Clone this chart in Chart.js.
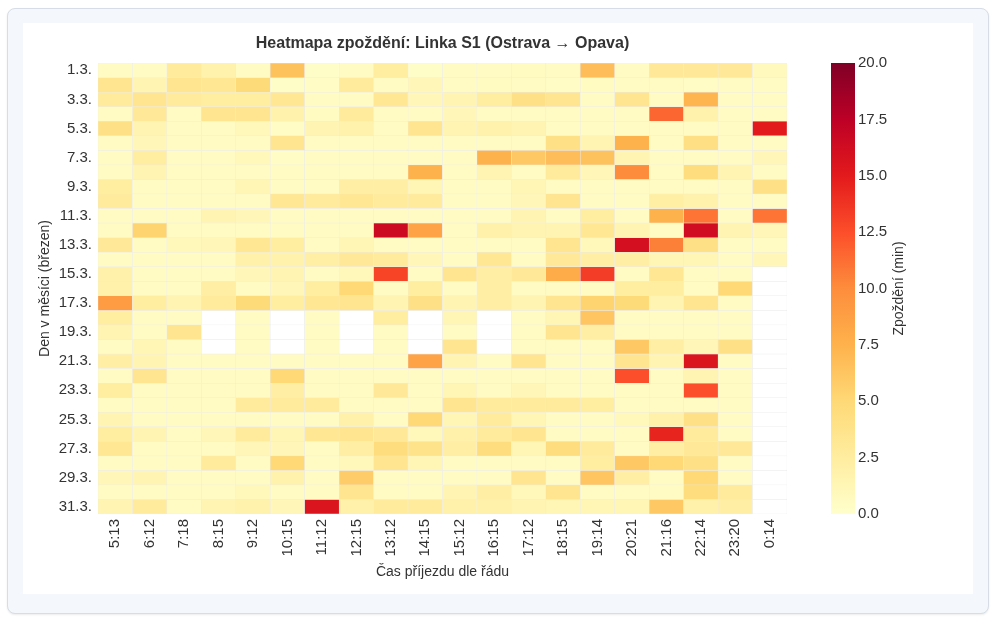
<!DOCTYPE html>
<html>
<head>
<meta charset="utf-8">
<script src="https://cdn.jsdelivr.net/npm/chart.js@4.4.1/dist/chart.umd.min.js"></script>
<style>
  html, body { margin: 0; padding: 0; background: #ffffff; width: 1000px; height: 621px; overflow: hidden; }
  #card { position: absolute; left: 7px; top: 8px; width: 982px; height: 606px; box-sizing: border-box;
          background: #f4f7fb; border: 1px solid #d6dde6; border-radius: 8px; box-shadow: 0 1px 2px rgba(0,0,0,0.08); }
  #panel { position: absolute; left: 23px; top: 23px; width: 950px; height: 571px; background: #ffffff; }
  #c { position: absolute; left: 0; top: 0; }
</style>
</head>
<body>
<div id="card"></div>
<div id="panel"></div>
<canvas id="c" width="1000" height="621"></canvas>
<script>
// ---- data ----
const times = ['5:13','6:12','7:18','8:15','9:12','10:15','11:12','12:15','13:12','14:15',
               '15:12','16:15','17:12','18:15','19:14','20:21','21:16','22:14','23:20','0:14'];

const dayLabels = ['1.3.','2.3.','3.3.','4.3.','5.3.','6.3.','7.3.','8.3.','9.3.','10.3.',
                   '11.3.','12.3.','13.3.','14.3.','15.3.','16.3.','17.3.','18.3.','19.3.','20.3.',
                   '21.3.','22.3.','23.3.','24.3.','25.3.','26.3.','27.3.','28.3.','29.3.','30.3.','31.3.'];

const N = null; // missing value
// delay in minutes, one row per day, one column per scheduled arrival
const delayMatrix = [
  [0.5, 0.5, 2.8, 1.8, 0.5, 6.5, 0.3, 0.5, 2.5, 0.3, 0.5, 0.5, 0.6, 0.5, 6.8, 0.5, 3.0, 3.0, 3.0, 0.8],
  [3.5, 1.5, 3.5, 3.3, 4.8, 0.3, 0.4, 2.8, 0.5, 1.2, 0.5, 0.6, 0.5, 0.4, 0.6, 0.5, 0.5, 0.4, 0.5, 0.5],
  [2.8, 3.5, 2.8, 2.5, 2.5, 3.3, 0.5, 0.5, 3.3, 1.2, 1.5, 2.5, 4.0, 3.5, 0.5, 3.5, 0.5, 7.3, 0.5, 0.5],
  [0.5, 3.0, 0.5, 3.5, 3.5, 1.8, 0.6, 2.8, 0.5, 0.5, 1.2, 0.5, 0.5, 0.5, 0.5, 0.5, 11.5, 1.8, 0.5, 0.5],
  [4.0, 1.5, 0.5, 0.5, 1.0, 0.4, 1.5, 1.8, 0.5, 3.5, 1.5, 1.8, 1.5, 0.5, 0.5, 0.5, 0.5, 0.5, 0.5, 15.0],
  [0.5, 1.2, 0.5, 0.5, 0.5, 3.5, 0.5, 0.5, 0.5, 0.5, 0.5, 0.5, 0.5, 4.0, 1.5, 7.5, 0.5, 4.2, 0.5, 0.5],
  [0.5, 2.5, 0.5, 0.5, 1.0, 0.4, 0.5, 0.5, 0.5, 0.5, 0.5, 7.5, 6.0, 6.8, 6.5, 1.5, 0.5, 0.5, 0.5, 1.2],
  [0.5, 1.5, 0.5, 0.5, 0.5, 0.5, 0.5, 0.5, 0.5, 7.5, 0.5, 1.5, 0.5, 2.8, 1.2, 10.0, 0.5, 4.5, 1.5, 0.5],
  [2.5, 0.5, 0.5, 0.5, 1.3, 0.5, 0.5, 2.3, 2.3, 1.3, 0.5, 0.5, 1.3, 0.5, 0.5, 0.5, 0.5, 0.5, 0.5, 4.0],
  [2.8, 0.5, 0.5, 0.5, 0.5, 3.3, 2.8, 3.3, 2.8, 2.8, 0.5, 0.5, 1.2, 3.5, 0.5, 0.5, 2.2, 1.8, 0.5, 0.5],
  [0.5, 0.5, 0.5, 1.5, 1.2, 0.5, 0.5, 0.5, 0.5, 0.5, 0.5, 0.5, 1.5, 0.5, 2.5, 0.5, 7.5, 11.0, 0.5, 11.0],
  [0.5, 5.3, 0.5, 0.5, 0.5, 0.5, 0.5, 0.5, 16.5, 8.5, 0.5, 2.0, 1.5, 1.5, 3.3, 1.5, 0.5, 16.3, 1.5, 1.2],
  [3.0, 0.5, 1.0, 1.2, 3.3, 2.5, 0.5, 1.3, 0.5, 0.5, 0.5, 0.5, 0.5, 3.5, 1.0, 16.0, 10.5, 4.0, 0.5, 0.5],
  [0.5, 0.5, 0.5, 0.5, 2.0, 1.8, 2.2, 3.0, 2.8, 1.2, 0.5, 3.3, 0.5, 3.0, 2.3, 2.3, 1.3, 1.3, 0.5, 1.2],
  [2.0, 0.5, 0.5, 0.5, 1.2, 1.5, 0.5, 1.0, 13.0, 0.5, 3.5, 2.3, 3.0, 8.0, 13.3, 0.5, 3.3, 0.5, 0.5, N],
  [2.0, 0.5, 0.5, 2.3, 0.5, 1.2, 2.5, 5.0, 0.5, 2.5, 0.5, 2.3, 0.5, 0.5, 0.5, 2.5, 2.5, 0.5, 5.0, N],
  [9.0, 2.5, 1.5, 2.8, 4.8, 2.5, 3.2, 3.5, 1.5, 4.0, 1.5, 2.3, 1.5, 3.5, 5.3, 4.8, 1.5, 3.5, 0.5, N],
  [2.5, 0.5, 0.5, N, 0.5, N, 0.5, N, 2.5, N, 1.3, N, 0.5, 1.3, 6.3, 0.5, 0.5, 0.5, 0.5, N],
  [1.5, 0.5, 3.5, N, 0.5, N, 0.5, N, 0.5, N, 0.5, N, 0.5, 3.5, 2.3, 0.5, 0.5, 0.5, 0.5, N],
  [0.5, 1.3, 0.5, N, 0.5, N, 0.5, N, 0.5, N, 3.5, N, 0.5, 0.5, 0.5, 6.0, 2.3, 1.2, 4.0, N],
  [2.3, 1.5, 0.5, 0.5, 0.5, 0.5, 0.5, 0.5, 0.5, 8.5, 1.5, 0.5, 3.5, 0.5, 0.5, 3.5, 1.5, 15.5, 0.5, N],
  [0.5, 3.5, 0.5, 0.5, 0.5, 5.0, 0.5, 0.5, 0.5, 0.5, 0.5, 0.5, 0.5, 0.5, 0.5, 12.5, 0.5, 1.5, 0.5, N],
  [2.5, 0.5, 0.5, 0.5, 0.5, 2.3, 0.5, 0.5, 3.0, 0.5, 1.3, 0.5, 1.2, 0.5, 0.5, 0.5, 0.5, 12.5, 0.5, N],
  [0.5, 0.5, 0.5, 0.5, 2.8, 2.8, 2.8, 0.5, 0.5, 0.5, 3.5, 2.8, 2.8, 2.8, 2.5, 0.5, 0.5, 0.5, 0.5, N],
  [1.5, 0.5, 0.5, 0.5, 0.5, 0.5, 0.5, 2.0, 0.5, 5.0, 1.3, 2.8, 1.3, 0.5, 0.5, 1.0, 2.0, 4.0, 0.5, N],
  [2.5, 1.5, 0.5, 1.2, 2.8, 1.3, 3.3, 3.5, 3.0, 1.0, 2.0, 2.8, 3.5, 0.5, 0.5, 0.5, 14.5, 2.8, 0.5, N],
  [3.3, 0.5, 0.5, 0.5, 1.2, 1.2, 0.5, 2.3, 4.5, 3.8, 2.3, 4.5, 1.3, 4.5, 2.8, 0.5, 2.3, 3.0, 3.0, N],
  [0.5, 0.5, 0.5, 2.8, 0.5, 5.0, 0.5, 1.0, 3.5, 1.3, 0.5, 0.5, 0.5, 0.5, 2.5, 6.0, 5.0, 4.0, 0.5, N],
  [1.2, 1.5, 0.5, 0.5, 0.5, 1.8, 0.5, 5.8, 0.5, 0.5, 0.5, 0.5, 3.5, 0.5, 6.3, 2.3, 0.5, 5.0, 0.5, N],
  [0.5, 0.5, 0.5, 0.5, 1.0, 0.5, 0.5, 3.5, 0.5, 0.5, 1.5, 2.3, 1.0, 3.5, 0.5, 0.5, 0.5, 4.5, 2.8, N],
  [1.5, 2.8, 0.5, 1.5, 1.8, 1.2, 15.5, 2.0, 2.8, 2.8, 2.0, 2.0, 1.5, 1.3, 1.3, 1.3, 6.0, 2.0, 2.3, N]
];

const delayMin = 0;
const delayMax = 20;
const colorbarTicks = [0, 2.5, 5, 7.5, 10, 12.5, 15, 17.5, 20];

const chartTitle = 'Heatmapa zpoždění: Linka S1 (Ostrava → Opava)';
const xTitle = 'Čas příjezdu dle řádu';
const yTitle = 'Den v měsíci (březen)';
const cbTitle = 'Zpoždění (min)';

// ---- style ----
const FONT = "'Liberation Sans', Arial, sans-serif";
const TEXT = '#333333';
const YLORRD = ['#ffffcc','#ffeda0','#fed976','#feb24c','#fd8d3c','#fc4e2a','#e31a1c','#bd0026','#800026'];

function hexToRgb(h) { return [parseInt(h.slice(1,3),16), parseInt(h.slice(3,5),16), parseInt(h.slice(5,7),16)]; }
const STOPS = YLORRD.map(hexToRgb);
function colorFor(v) {
  if (v === null || v === undefined || isNaN(v)) return '#ffffff';
  let t = (v - delayMin) / (delayMax - delayMin);
  t = Math.max(0, Math.min(1, t));
  const p = t * (STOPS.length - 1);
  const i = Math.min(Math.floor(p), STOPS.length - 2);
  const f = p - i;
  const a = STOPS[i], b = STOPS[i + 1];
  const c = a.map((ch, k) => Math.round(ch + (b[k] - ch) * f));
  return `rgb(${c[0]},${c[1]},${c[2]})`;
}

const datasets = dayLabels.map((day, di) => ({
  label: day,
  data: times.map((t) => ({ x: t, y: [di, di + 1] })),
  backgroundColor: times.map((t, ti) => colorFor(delayMatrix[di][ti])),
  borderColor: '#ececec',
  borderWidth: 0.5,
  borderSkipped: false,
  grouped: false,
  barPercentage: 1,
  categoryPercentage: 1
}));

const colorbarPlugin = {
  id: 'colorbar',
  afterDraw(chart) {
    const s = chart.scales.cb;
    const ca = chart.chartArea;
    const ctx = chart.ctx;
    const x0 = ca.right + 44, w = 24;
    const yTop = s.getPixelForValue(delayMax);
    const yBot = s.getPixelForValue(delayMin);
    const g = ctx.createLinearGradient(0, yBot, 0, yTop);
    YLORRD.forEach((c, i) => g.addColorStop(i / (YLORRD.length - 1), c));
    ctx.save();
    ctx.fillStyle = g;
    ctx.fillRect(x0, yTop, w, yBot - yTop);
    ctx.translate(899.5, (yTop + yBot) / 2);
    ctx.rotate(-Math.PI / 2);
    ctx.textAlign = 'center';
    ctx.textBaseline = 'middle';
    ctx.fillStyle = TEXT;
    ctx.font = `14px ${FONT}`;
    ctx.fillText(cbTitle, 0, 0);
    ctx.restore();
  }
};

function fixVertical(width) {
  return (s) => { s.width = width; s.paddingTop = 0; s.paddingBottom = 0; };
}

new Chart(document.getElementById('c'), {
  type: 'bar',
  data: { labels: times, datasets },
  options: {
    responsive: false,
    animation: false,
    layout: { padding: 0 },
    plugins: {
      legend: { display: false },
      tooltip: { enabled: false },
      title: {
        display: true, text: chartTitle, fullSize: false, color: TEXT,
        font: { family: FONT, size: 16, weight: 'bold' },
        padding: { top: 34.4, bottom: 9.4 }
      }
    },
    scales: {
      x: {
        type: 'category', offset: true,
        grid: { display: false, drawTicks: false }, border: { display: false },
        ticks: { color: TEXT, font: { family: FONT, size: 15 }, minRotation: 90, maxRotation: 90, padding: 5, autoSkip: false },
        title: { display: true, text: xTitle, color: TEXT, font: { family: FONT, size: 14 }, padding: { top: 0, bottom: 40.6 } },
        afterFit: (s) => { s.height = 107; s.paddingLeft = 0; s.paddingRight = 0; }
      },
      y: {
        type: 'linear', min: 0, max: dayLabels.length, reverse: true,
        grid: { display: false, drawTicks: false }, border: { display: false },
        afterBuildTicks: (s) => { s.ticks = dayLabels.map((d, i) => ({ value: i + 0.5 })).filter((_, i) => i % 2 === 0); },
        ticks: { color: TEXT, font: { family: FONT, size: 15 }, padding: 6, autoSkip: false,
                 callback: (v) => dayLabels[Math.round(v - 0.5)] },
        title: { display: true, text: yTitle, color: TEXT, font: { family: FONT, size: 14 }, padding: { top: 36.6, bottom: 0 } },
        afterFit: fixVertical(98)
      },
      cb: {
        type: 'linear', position: 'right', min: delayMin, max: delayMax,
        grid: { display: false, drawTicks: false }, border: { display: false },
        afterBuildTicks: (s) => { s.ticks = colorbarTicks.map((v) => ({ value: v })); },
        ticks: { color: TEXT, font: { family: FONT, size: 15 }, padding: 71, autoSkip: false,
                 callback: (v) => Number(v).toFixed(1) },
        afterFit: fixVertical(213)
      }
    }
  },
  plugins: [colorbarPlugin]
});
</script>
</body>
</html>
